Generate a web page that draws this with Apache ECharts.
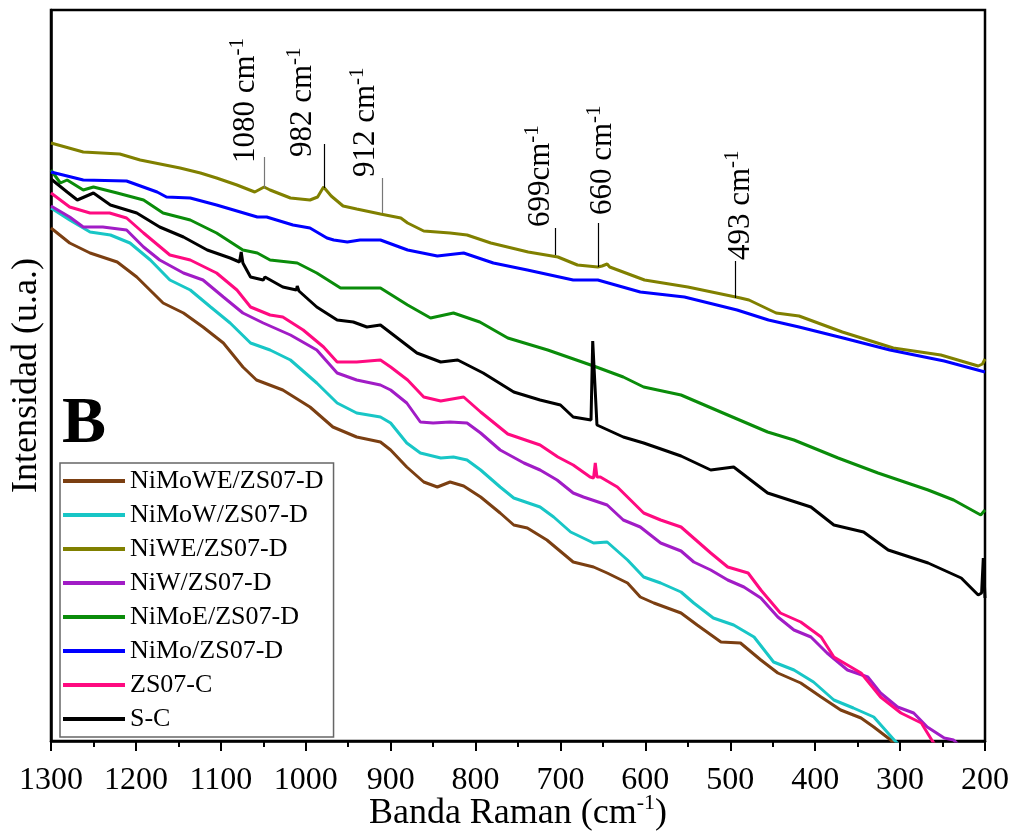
<!DOCTYPE html>
<html>
<head>
<meta charset="utf-8">
<script src="https://cdn.jsdelivr.net/npm/echarts@6/dist/echarts.min.js"></script>
<style>
  html, body { margin: 0; padding: 0; background: #fff; }
  #raman { width: 1013px; height: 838px; }
</style>
</head>
<body>
<div id="raman"></div>
<script>
// Espectros Raman: [banda (cm-1), intensidad (u.a.)]
const nimowe = [[1300,513],[1278,498],[1254,488],[1222,479],[1199,464],[1168,438],[1144,428],[1121,414],[1097,398],[1074,374],[1058,361],[1027,351],[995,334],[968,314],[940,304],[912,299],[900,291],[881,274],[861,259],[845,254],[830,259],[814,255],[794,244],[771,228],[755,216],[739,213],[716,201],[685,179],[661,174],[645,168],[621,158],[606,144],[590,138],[558,128],[539,116],[511,99],[488,98],[464,81],[444,68],[417,58],[393,44],[370,31],[346,23],[331,14],[311,1],[300,-9]];
const nimow = [[1300,533],[1278,521],[1254,509],[1230,506],[1207,498],[1183,481],[1160,461],[1136,451],[1112,434],[1089,418],[1065,398],[1042,391],[1018,381],[987,358],[963,338],[940,328],[912,324],[900,318],[881,298],[865,288],[841,283],[826,284],[810,281],[794,271],[771,254],[755,243],[724,234],[708,224],[688,209],[661,198],[645,199],[621,181],[602,164],[582,158],[558,149],[543,138],[520,123],[496,116],[472,104],[449,79],[425,71],[402,59],[378,41],[355,33],[331,24],[307,1],[295,-9]];
const niwe = [[1300,598],[1262,589],[1219,587],[1195,581],[1148,573],[1124,568],[1105,563],[1081,556],[1060,549],[1049,554],[1042,551],[1018,543],[995,541],[986,544],[979,554],[970,545],[956,535],[940,532],[912,527],[888,523],[880,518],[861,510],[830,508],[810,506],[782,498],[738,489],[703,484],[680,476],[656,474],[651,475],[645,477],[642,474],[601,461],[550,454],[488,443],[478,441],[446,428],[419,425],[368,409],[308,393],[252,386],[208,375],[203,377],[200,382]];
const niw = [[1300,535],[1278,524],[1262,514],[1239,514],[1211,511],[1191,494],[1172,481],[1144,468],[1121,461],[1097,444],[1074,428],[1050,418],[1018,406],[987,391],[963,368],[940,361],[912,356],[900,351],[881,338],[865,319],[850,318],[830,319],[810,318],[794,308],[771,291],[743,278],[724,271],[704,261],[685,248],[673,244],[645,236],[626,221],[606,214],[582,198],[558,190],[543,179],[523,171],[503,161],[484,154],[464,143],[444,124],[425,111],[405,104],[386,88],[362,71],[338,64],[323,48],[303,34],[284,28],[268,14],[248,3],[237,1],[225,-9]];
const nimoe = [[1300,571],[1289,558],[1281,561],[1262,551],[1250,554],[1222,548],[1191,541],[1168,528],[1136,521],[1105,508],[1074,491],[1057,488],[1042,481],[1010,478],[987,468],[959,453],[936,453],[912,453],[880,436],[853,423],[826,428],[795,419],[762,403],[715,391],[661,375],[626,364],[602,354],[558,346],[503,326],[456,309],[425,301],[373,283],[326,268],[267,251],[237,241],[205,226],[200,231]];
const nimo = [[1300,569],[1262,561],[1211,560],[1175,549],[1164,544],[1136,543],[1105,536],[1057,524],[1046,524],[1015,516],[995,513],[975,503],[967,501],[951,499],[936,501],[912,501],[880,491],[845,485],[814,488],[779,478],[739,471],[685,461],[656,461],[606,449],[554,444],[492,431],[455,421],[419,414],[367,403],[312,391],[248,380],[200,369]];
const zs07c = [[1300,548],[1278,534],[1254,528],[1231,528],[1211,523],[1191,508],[1160,486],[1136,481],[1105,468],[1081,451],[1065,434],[1042,426],[1027,424],[1003,411],[979,394],[963,379],[940,379],[912,381],[900,374],[880,361],[861,344],[841,340],[814,344],[794,329],[762,307],[724,296],[703,284],[685,276],[665,264],[661,263],[659,278],[657,264],[653,264],[633,254],[602,228],[582,221],[558,214],[523,188],[503,174],[479,168],[464,151],[441,128],[417,119],[393,104],[378,84],[346,68],[323,44],[299,28],[275,18],[262,0],[250,-14]];
const sc = [[1300,562],[1281,549],[1269,541],[1250,548],[1230,536],[1199,528],[1172,514],[1144,504],[1116,491],[1089,483],[1078,479],[1076,489],[1074,478],[1065,464],[1050,461],[1048,464],[1027,454],[1011,451],[1010,455],[1008,450],[987,434],[963,421],[944,419],[928,414],[912,416],[869,388],[841,379],[821,381],[791,368],[755,349],[724,341],[700,336],[685,324],[664,321],[662,400],[660,400],[657,316],[626,304],[602,298],[585,293],[558,285],[523,271],[496,274],[456,248],[405,234],[378,216],[343,209],[314,191],[267,178],[228,163],[208,146],[204,148],[202,183],[200,143]];

const seriesNames = ['NiMoWE/ZS07-D', 'NiMoW/ZS07-D', 'NiWE/ZS07-D', 'NiW/ZS07-D', 'NiMoE/ZS07-D', 'NiMo/ZS07-D', 'ZS07-C', 'S-C'];
const seriesData = [nimowe, nimow, niwe, niw, nimoe, nimo, zs07c, sc];
const seriesColors = ['#7B3F12', '#18C6C6', '#808000', '#A11CC6', '#0A8C0A', '#0000FF', '#FF0A80', '#000000'];

// Bandas señaladas: texto, posición de la línea y del texto
const bandLabels = ['1080 cm', '982 cm', '912 cm', '699cm', '660 cm', '493 cm'];
const bandLineX = [1048.5, 978, 910, 706.6, 656, 493.6];
const bandLineFrom = [584, 597, 563, 513, 518, 480];
const bandLineTo = [553, 553, 528, 486, 474, 443];
const bandLineColor = ['#777', '#000', '#777', '#000', '#000', '#000'];
const bandTextX = [1070, 1003, 929, 723.5, 650.4, 487.7];
const bandTextY = [578, 584, 564, 514, 526, 481];

const serif = "'Liberation Serif', 'Times New Roman', serif";

const BandaRaman = {
    chart: null,
    option: null,

    init: function() {
        const dom = document.getElementById('raman');
        this.chart = echarts.init(dom, null, { renderer: 'canvas' });

        this.option = {
            animation: false,
            backgroundColor: '#fff',
            grid: {
                left: 51, right: 28, top: 10, bottom: 97,
                containLabel: false,
                outerBoundsMode: 'none',
                show: true, borderColor: '#000', borderWidth: 2.5
            },
            legend: {
                orient: 'vertical',
                left: 60, top: 463,
                data: seriesNames,
                icon: 'rect',
                itemWidth: 62, itemHeight: 4, itemGap: 6,
                padding: [4, 10, 4, 3],
                borderColor: '#666', borderWidth: 1.5,
                backgroundColor: '#fff',
                textStyle: { fontFamily: serif, fontSize: 26, lineHeight: 28, color: '#000' }
            },
            xAxis: {
                type: 'value',
                inverse: true,
                min: 200, max: 1300, interval: 100,
                name: '{a|Banda Raman (cm}{s|-1}{a|)}',
                nameLocation: 'middle',
                nameGap: 51,
                nameMoveOverlap: false,
                nameTextStyle: {
                    rich: {
                        a: { fontFamily: serif, fontSize: 36, lineHeight: 44, color: '#000' },
                        s: { fontFamily: serif, fontSize: 22, lineHeight: 22, verticalAlign: 'top', color: '#000' }
                    }
                },
                axisLine: { lineStyle: { color: '#000', width: 2.5 } },
                axisTick: { length: 10, lineStyle: { color: '#000', width: 2 } },
                minorTick: { show: true, splitNumber: 2, length: 6, lineStyle: { color: '#000', width: 2 } },
                splitLine: { show: false },
                axisLabel: {
                    fontFamily: serif, fontSize: 32, color: '#000', margin: 24,
                    formatter: function (value) { return String(value); }
                }
            },
            yAxis: {
                type: 'value',
                min: 0, max: 731,
                name: 'Intensidad (u.a.)',
                nameLocation: 'middle',
                nameRotate: 90,
                nameGap: 6,
                nameMoveOverlap: false,
                nameTextStyle: { fontFamily: serif, fontSize: 36, color: '#000' },
                axisLine: { show: true, lineStyle: { color: '#000', width: 2.5 } },
                axisTick: { show: false },
                axisLabel: { show: false },
                splitLine: { show: false }
            },
            series: seriesData.map((data, i) => ({
                name: seriesNames[i],
                type: 'line',
                data: data,
                color: seriesColors[i],
                showSymbol: false,
                symbol: 'none',
                clip: true,
                lineStyle: { width: 3 },
                z: 2 + i,
                markLine: i === 2 ? {
                    silent: true,
                    symbol: 'none',
                    label: { show: false },
                    data: bandLineX.map((x, k) => [
                        { coord: [x, bandLineFrom[k]], lineStyle: { color: bandLineColor[k], width: 1.2, type: 'solid' } },
                        { coord: [x, bandLineTo[k]] }
                    ])
                } : undefined
            }))
        };

        this.chart.setOption(this.option);

        // Etiquetas giradas de las bandas y la letra del panel
        const graphics = bandLabels.map((txt, k) => {
            const p = this.chart.convertToPixel({ gridIndex: 0 }, [bandTextX[k], bandTextY[k]]);
            return {
                type: 'text',
                x: p[0], y: p[1],
                rotation: Math.PI / 2,
                z: 100,
                style: {
                    text: '{a|' + txt + '}{s|-1}',
                    align: 'left',
                    verticalAlign: 'middle',
                    rich: {
                        a: { fontFamily: serif, fontSize: 31, lineHeight: 38, fill: '#000' },
                        s: { fontFamily: serif, fontSize: 21, lineHeight: 21, verticalAlign: 'top', fill: '#000' }
                    }
                }
            };
        });
        graphics.push({
            type: 'text', left: 62, top: 392, z: 100,
            style: { text: 'B', fontFamily: serif, fontWeight: 'bold', fontSize: 66, fill: '#000' }
        });
        this.chart.setOption({ graphic: graphics });
    }
};

BandaRaman.init();
</script>
</body>
</html>
